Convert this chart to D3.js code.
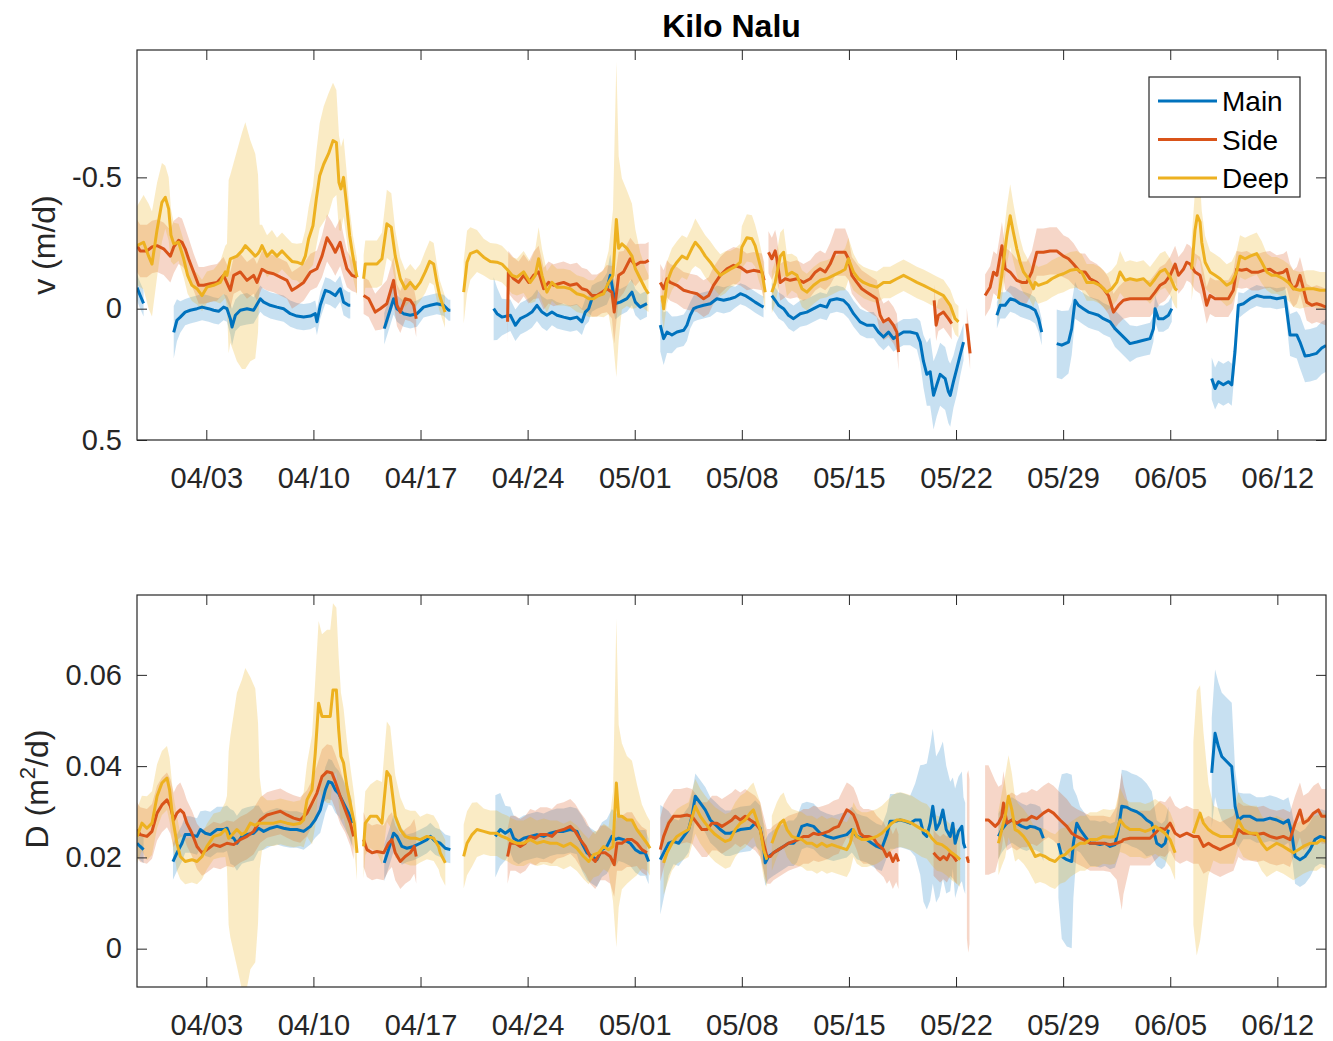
<!DOCTYPE html>
<html>
<head>
<meta charset="utf-8">
<script src="https://cdn.jsdelivr.net/npm/d3@7"></script>
<style>
  body { margin: 0; background: #fff; }
  text { font-family: "Liberation Sans", Arial, Helvetica, sans-serif; }
</style>
</head>
<body>
<svg id="chart" width="1333" height="1041"></svg>
<script>
// Kilo Nalu: along-slope velocity v and diffusivity D at three stations.
// Each record is [t, value, sd], t = days after 31 March 00:00 (UTC);
// the shaded band is value ± sd. null marks a gap in the record.

const seriesNames = ["Main", "Side", "Deep"];
const seriesColors = ["#0072BD", "#D95319", "#EDB120"];
const xTickLabels = ["04/03", "04/10", "04/17", "04/24", "05/01", "05/08", "05/15", "05/22", "05/29", "06/05", "06/12"];
const timeRange = [-1.53, 76.18];
const vTicks = [-0.5, 0, 0.5];
const vRange = [-0.985, 0.5];
const dTicks = [0, 0.02, 0.04, 0.06];
const dRange = [-0.0084, 0.0775];

// ---------- v (m/d) ----------
const vMain = [
  [-1.53,-0.08,0.05],[-1.32,-0.05,0.05],[-1.10,-0.02,0.05],
  null,
  [0.87,0.09,0.10],[1.08,0.044,0.08],[1.30,0.032,0.06],[1.62,0.013,0.05],[1.95,0.006,0.05],[2.39,0,0.05],[2.72,-0.006,0.05],[3.15,0,0.05],[3.48,0.006,0.05],[3.80,0.01,0.05],[4.13,-0.006,0.05],[4.35,0,0.05],[4.57,0.038,0.06],[4.68,0.07,0.07],[4.90,0.025,0.06],[5.22,0.006,0.06],[5.66,0,0.06],[6.09,0.006,0.05],[6.53,-0.038,0.05],[6.75,-0.025,0.05],[7.18,-0.013,0.05],[7.62,-0.006,0.05],[8.05,0,0.05],[8.49,0.019,0.05],[8.92,0.028,0.05],[9.36,0.032,0.05],[9.80,0.028,0.05],[10.12,0.019,0.05],[10.23,0.05,0.05],[10.45,-0.013,0.05],[10.78,-0.07,0.05],[11.10,-0.063,0.05],[11.43,-0.05,0.05],[11.75,-0.076,0.05],[11.97,-0.025,0.05],[12.30,-0.013,0.05],[12.41,-0.013,0.05],
  null,
  [14.63,0.076,0.06],[15.24,-0.038,0.06],[15.46,0,0.05],[15.89,0.019,0.05],[16.33,0.025,0.05],[16.77,0.019,0.05],[17.20,-0.006,0.04],[17.64,-0.013,0.04],[18.07,-0.019,0.04],[18.51,-0.013,0.04],[18.84,0.006,0.04],[18.95,0.006,0.04],
  null,
  [21.78,0,0.12],[22.0,0.019,0.10],[22.32,0.032,0.07],[22.87,0.025,0.06],[23.2,0.063,0.06],[23.52,0.038,0.06],[23.96,0.025,0.06],[24.28,0.013,0.06],[24.61,-0.013,0.06],[24.94,0.013,0.06],[25.26,0.025,0.06],[25.59,0.013,0.05],[25.92,0.025,0.05],[26.35,0.032,0.05],[26.79,0.038,0.05],[27.22,0.032,0.05],[27.55,0.05,0.05],[27.77,0.013,0.05],[27.99,0,0.05],[28.2,-0.038,0.05],[28.53,-0.05,0.05],[28.86,-0.057,0.05],[29.18,-0.076,0.06],[29.40,-0.127,0.08],[29.73,-0.019,0.06],[30.05,-0.025,0.05],[30.49,-0.038,0.05],[30.82,-0.063,0.05],[31.04,-0.025,0.05],[31.36,-0.006,0.05],[31.80,-0.019,0.05],
  null,
  [32.67,0.063,0.10],[32.89,0.114,0.10],[33.11,0.089,0.08],[33.43,0.10,0.07],[33.76,0.089,0.06],[34.20,0.082,0.06],[34.41,0.063,0.06],[34.63,0.025,0.05],[34.85,0,0.05],[35.07,-0.006,0.05],[35.50,-0.013,0.05],[35.94,-0.019,0.05],[36.37,-0.038,0.05],[36.81,-0.032,0.05],[37.24,-0.038,0.05],[37.57,-0.044,0.04],[37.90,-0.057,0.04],[38.22,-0.05,0.04],[38.55,-0.038,0.04],[38.87,-0.025,0.04],[39.2,-0.013,0.04],[39.42,-0.006,0.04],
  null,
  [39.96,-0.05,0.05],[40.18,-0.032,0.05],[40.40,-0.013,0.05],[40.73,0,0.05],[41.05,0.025,0.05],[41.38,0.038,0.05],[41.82,0.019,0.05],[42.25,0.013,0.05],[42.69,0,0.05],[43.12,-0.013,0.05],[43.55,-0.006,0.05],[43.77,-0.032,0.05],[44.21,-0.038,0.05],[44.64,-0.032,0.05],[44.97,-0.013,0.05],[45.3,0.019,0.05],[45.73,0.05,0.05],[46.17,0.063,0.05],[46.61,0.063,0.05],[46.93,0.089,0.05],[47.26,0.108,0.05],[47.59,0.089,0.05],[47.91,0.114,0.05],[48.24,0.10,0.05],[48.57,0.089,0.05],[49.0,0.089,0.05],[49.44,0.095,0.06],[49.66,0.127,0.08],[49.87,0.20,0.10],[50.09,0.25,0.12],[50.31,0.24,0.13],[50.53,0.33,0.13],[50.74,0.29,0.12],[50.96,0.25,0.12],[51.29,0.266,0.12],[51.50,0.316,0.12],[51.62,0.33,0.12],[51.83,0.278,0.10],[52.05,0.228,0.10],[52.27,0.177,0.08],[52.49,0.127,0.07],
  null,
  [54.67,0.025,0.05],[54.89,-0.013,0.05],[55.21,-0.013,0.05],[55.54,-0.038,0.05],[55.86,-0.032,0.05],[56.19,-0.019,0.05],[56.51,-0.013,0.05],[56.84,-0.006,0.05],[57.17,0.006,0.05],[57.39,0.038,0.05],[57.6,0.089,0.05],
  null,
  [58.58,0.133,0.13],[58.91,0.139,0.13],[59.35,0.127,0.12],[59.56,0.076,0.10],[59.78,-0.032,0.07],[60.0,-0.013,0.06],[60.32,0,0.06],[60.65,0.013,0.06],[60.98,0.019,0.06],[61.31,0.025,0.06],[61.63,0.038,0.06],[62.07,0.05,0.06],[62.39,0.076,0.07],[62.72,0.095,0.07],[63.05,0.114,0.07],[63.37,0.133,0.07],[63.81,0.127,0.06],[64.25,0.12,0.06],[64.68,0.114,0.06],[64.9,0.076,0.05],[65.01,0,0.05],[65.23,0.038,0.05],[65.55,0.038,0.05],[65.88,0.025,0.05],[66.1,0,0.05],
  null,
  [68.71,0.266,0.08],[68.93,0.304,0.08],[69.15,0.278,0.08],[69.47,0.29,0.08],[69.80,0.278,0.08],[70.02,0.29,0.08],[70.23,0.165,0.06],[70.45,-0.013,0.05],[70.78,-0.019,0.04],[71.22,-0.038,0.04],[71.65,-0.05,0.04],[72.09,-0.044,0.04],[72.52,-0.044,0.04],[72.96,-0.038,0.04],[73.5,-0.044,0.04],[73.83,0.10,0.08],[74.27,0.10,0.09],[74.48,0.127,0.10],[74.81,0.18,0.10],[75.14,0.177,0.10],[75.57,0.17,0.10],[75.90,0.15,0.10],[76.18,0.14,0.10]
];

const vSide = [
  [-1.53,-0.24,0.10],[-1.32,-0.22,0.10],[-0.88,-0.22,0.10],[-0.55,-0.235,0.10],[-0.22,-0.24,0.10],[0.21,-0.228,0.10],[0.65,-0.2,0.10],[0.87,-0.235,0.10],[1.19,-0.26,0.09],[1.41,-0.253,0.09],[1.62,-0.228,0.08],[1.84,-0.19,0.08],[2.17,-0.14,0.07],[2.5,-0.089,0.07],[2.83,-0.089,0.07],[3.26,-0.095,0.07],[3.70,-0.10,0.07],[4.13,-0.127,0.07],[4.57,-0.07,0.07],[4.79,-0.127,0.07],[5.22,-0.14,0.07],[5.66,-0.108,0.07],[6.09,-0.127,0.07],[6.31,-0.10,0.07],[6.64,-0.15,0.07],[6.97,-0.139,0.07],[7.40,-0.133,0.07],[7.84,-0.12,0.07],[8.27,-0.108,0.07],[8.6,-0.07,0.07],[8.92,-0.082,0.07],[9.36,-0.10,0.07],[9.80,-0.139,0.07],[10.23,-0.152,0.07],[10.56,-0.2,0.08],[10.89,-0.27,0.09],[11.21,-0.24,0.09],[11.43,-0.215,0.09],[11.75,-0.253,0.09],[11.97,-0.2,0.08],[12.19,-0.152,0.07],[12.52,-0.127,0.06],[12.85,-0.12,0.06],
  null,
  [13.28,-0.05,0.07],[13.61,-0.038,0.07],[14.04,0.013,0.07],[14.37,0,0.08],[14.80,-0.019,0.09],[15.24,-0.108,0.09],[15.46,-0.013,0.08],[15.68,0.013,0.08],[16.0,-0.038,0.08],[16.33,-0.032,0.08],[16.55,-0.013,0.07],[16.72,0.038,0.07],
  null,
  [22.69,0.05,0.08],[22.74,-0.14,0.08],[23.09,-0.114,0.08],[23.41,-0.10,0.08],[23.74,-0.127,0.08],[24.07,-0.10,0.08],[24.39,-0.127,0.09],[24.72,-0.14,0.10],[25.05,-0.076,0.08],[25.37,-0.10,0.08],[25.70,-0.089,0.08],[26.03,-0.095,0.08],[26.35,-0.10,0.08],[26.79,-0.089,0.08],[27.22,-0.095,0.08],[27.55,-0.076,0.08],[27.88,-0.07,0.08],[28.2,-0.05,0.08],[28.53,-0.05,0.08],[28.86,-0.063,0.08],[29.18,-0.076,0.09],[29.51,-0.063,0.10],[29.66,0.013,0.12],[29.95,-0.127,0.09],[30.27,-0.14,0.08],[30.71,-0.19,0.08],[31.04,-0.165,0.08],[31.36,-0.177,0.07],[31.69,-0.177,0.07],[31.91,-0.184,0.07],
  null,
  [32.67,-0.10,0.07],[32.89,-0.076,0.07],[33.11,-0.114,0.07],[33.32,-0.10,0.07],[33.76,-0.089,0.07],[34.20,-0.07,0.07],[34.63,-0.063,0.07],[35.07,-0.057,0.07],[35.50,-0.038,0.07],[35.83,-0.05,0.07],[36.15,-0.089,0.07],[36.59,-0.127,0.07],[37.03,-0.152,0.07],[37.46,-0.165,0.07],[37.90,-0.158,0.07],[38.33,-0.14,0.07],[38.76,-0.146,0.07],[39.31,-0.14,0.07],[39.46,-0.108,0.07],
  null,
  [39.74,-0.215,0.08],[39.96,-0.19,0.08],[40.18,-0.22,0.08],[40.29,-0.19,0.08],[40.51,-0.10,0.07],[40.84,-0.114,0.07],[41.16,-0.108,0.07],[41.60,-0.114,0.07],[42.03,-0.10,0.07],[42.47,-0.114,0.07],[42.80,-0.139,0.07],[43.12,-0.152,0.07],[43.45,-0.14,0.07],[43.77,-0.17,0.08],[44.10,-0.215,0.09],[44.42,-0.215,0.09],[44.75,-0.215,0.09],[44.97,-0.19,0.08],[45.19,-0.127,0.07],[45.52,-0.10,0.07],[45.84,-0.076,0.07],[46.17,-0.063,0.07],[46.50,-0.05,0.07],[46.82,-0.038,0.07],[47.04,0.025,0.07],[47.26,0.05,0.07],[47.59,0.038,0.07],[47.91,0.063,0.07],[48.13,0.089,0.07],[48.24,0.165,0.07],
  null,
  [50.57,-0.032,0.06],[50.70,0.063,0.06],[50.85,0.025,0.06],[51.18,0.013,0.06],[51.50,0.038,0.06],[51.72,0.057,0.06],
  null,
  [52.70,0.057,0.06],[52.92,0.17,0.06],
  null,
  [53.90,-0.05,0.08],[54.23,-0.082,0.08],[54.45,-0.139,0.08],[54.67,-0.127,0.08],[55.0,-0.24,0.09],[55.21,-0.152,0.08],[55.54,-0.139,0.08],[55.97,-0.108,0.08],[56.30,-0.10,0.08],[56.62,-0.10,0.08],[56.95,-0.139,0.08],[57.28,-0.215,0.09],[57.71,-0.215,0.09],[58.15,-0.22,0.09],[58.58,-0.22,0.09],[59.02,-0.20,0.08],[59.35,-0.19,0.08],[59.67,-0.17,0.08],[60.11,-0.14,0.07],[60.43,-0.14,0.07],[60.76,-0.114,0.07],[61.20,-0.10,0.07],[61.63,-0.076,0.07],[61.96,-0.05,0.07],[62.29,0.013,0.07],[62.61,-0.013,0.07],[62.94,-0.032,0.07],[63.37,-0.038,0.07],[63.81,-0.038,0.07],[64.25,-0.038,0.07],[64.68,-0.038,0.07],[65.01,-0.063,0.07],[65.33,-0.089,0.07],[65.66,-0.10,0.07],[65.99,-0.127,0.07],[66.32,-0.17,0.07],[66.54,-0.127,0.07],[66.86,-0.15,0.07],[67.08,-0.177,0.07],[67.30,-0.17,0.07],[67.62,-0.14,0.07],[67.95,-0.127,0.07],[68.17,-0.076,0.07],[68.38,-0.013,0.07],[68.60,-0.05,0.07],[68.93,-0.038,0.07],[69.37,-0.038,0.07],[69.80,-0.038,0.07],[70.12,-0.07,0.07],[70.34,-0.15,0.07],[70.67,-0.146,0.07],[71.0,-0.15,0.07],[71.32,-0.139,0.07],[71.76,-0.139,0.07],[72.09,-0.146,0.07],[72.52,-0.15,0.07],[72.96,-0.133,0.07],[73.39,-0.139,0.07],[73.61,-0.15,0.07],[73.83,-0.10,0.07],[74.05,-0.076,0.07],[74.27,-0.089,0.07],[74.48,-0.127,0.07],[74.70,-0.076,0.07],[74.92,-0.025,0.07],[75.25,-0.013,0.07],[75.57,-0.019,0.07],[75.90,-0.013,0.07],[76.18,-0.006,0.07]
];

const vDeep = [
  [-1.53,-0.24,0.15],[-1.10,-0.253,0.18],[-0.77,-0.2,0.2],[-0.55,-0.17,0.2],[-0.22,-0.30,0.18],[0.10,-0.405,0.15],[0.32,-0.424,0.12],[0.54,-0.38,0.12],[0.69,-0.28,0.1],[0.87,-0.247,0.08],[1.19,-0.253,0.07],[1.52,-0.19,0.07],[1.78,-0.127,0.07],[2.06,-0.089,0.06],[2.39,-0.076,0.06],[2.72,-0.05,0.06],[3.04,-0.082,0.06],[3.48,-0.089,0.06],[3.91,-0.10,0.08],[4.24,-0.14,0.1],[4.35,-0.127,0.12],[4.46,-0.16,0.33],[4.57,-0.19,0.32],[5.0,-0.2,0.4],[5.33,-0.22,0.45],[5.55,-0.24,0.47],[5.88,-0.22,0.42],[6.2,-0.2,0.39],[6.38,-0.21,0.3],[6.49,-0.22,0.1],[6.64,-0.24,0.08],[6.97,-0.2,0.08],[7.29,-0.22,0.08],[7.62,-0.2,0.07],[7.95,-0.22,0.07],[8.27,-0.2,0.07],[8.60,-0.18,0.07],[8.92,-0.177,0.07],[9.25,-0.17,0.08],[9.47,-0.2,0.1],[9.69,-0.266,0.12],[9.97,-0.316,0.15],[10.19,-0.418,0.18],[10.41,-0.506,0.2],[10.67,-0.55,0.22],[10.99,-0.59,0.23],[11.28,-0.64,0.22],[11.50,-0.633,0.2],[11.67,-0.48,0.18],[11.80,-0.456,0.16],[11.97,-0.5,0.15],[12.15,-0.405,0.13],[12.37,-0.278,0.1],[12.58,-0.2,0.08],[12.85,-0.12,0.07],
  null,
  [13.28,-0.114,0.09],[13.39,-0.17,0.09],[13.72,-0.17,0.09],[14.15,-0.17,0.09],[14.48,-0.19,0.1],[14.80,-0.323,0.13],[15.09,-0.31,0.13],[15.35,-0.2,0.1],[15.68,-0.114,0.08],[16.0,-0.076,0.07],[16.33,-0.10,0.07],[16.66,-0.076,0.07],[16.98,-0.10,0.07],[17.31,-0.14,0.08],[17.60,-0.18,0.08],[17.86,-0.17,0.08],[18.07,-0.10,0.07],[18.25,-0.05,0.06],[18.6,0.013,0.06],
  null,
  [19.82,-0.063,0.12],[20.04,-0.177,0.12],[20.26,-0.21,0.1],[20.69,-0.22,0.08],[21.13,-0.196,0.07],[21.56,-0.18,0.07],[21.99,-0.177,0.07],[22.32,-0.17,0.07],[22.65,-0.15,0.07],[22.98,-0.127,0.07],[23.30,-0.12,0.07],[23.74,-0.14,0.08],[24.17,-0.10,0.08],[24.50,-0.127,0.1],[24.72,-0.19,0.12],[24.94,-0.127,0.1],[25.26,-0.063,0.08],[25.59,-0.10,0.07],[25.92,-0.082,0.07],[26.35,-0.082,0.07],[26.79,-0.076,0.07],[27.22,-0.057,0.07],[27.66,-0.05,0.07],[27.99,-0.038,0.07],[28.31,-0.038,0.07],[28.64,-0.05,0.08],[28.97,-0.057,0.09],[29.29,-0.10,0.12],[29.58,-0.127,0.25],[29.80,-0.34,0.6],[29.95,-0.23,0.35],[30.16,-0.247,0.25],[30.49,-0.23,0.22],[30.82,-0.2,0.2],[31.04,-0.152,0.15],[31.36,-0.114,0.1],[31.69,-0.076,0.08],[31.90,-0.057,0.07],
  null,
  [32.78,-0.05,0.08],[32.89,0,0.08],[33.11,-0.10,0.08],[33.43,-0.15,0.08],[33.76,-0.177,0.08],[34.09,-0.2,0.08],[34.41,-0.19,0.08],[34.74,-0.23,0.08],[34.96,-0.253,0.09],[35.29,-0.23,0.08],[35.61,-0.2,0.08],[35.94,-0.177,0.08],[36.26,-0.15,0.08],[36.59,-0.127,0.08],[36.92,-0.139,0.08],[37.24,-0.15,0.07],[37.57,-0.16,0.07],[37.90,-0.177,0.07],[38.0,-0.234,0.08],[38.33,-0.27,0.09],[38.66,-0.266,0.09],[38.87,-0.24,0.08],[39.09,-0.19,0.08],[39.31,-0.14,0.07],[39.53,-0.063,0.07],
  null,
  [39.96,-0.063,0.08],[40.18,-0.10,0.08],[40.51,-0.2,0.09],[40.73,-0.215,0.09],[40.95,-0.127,0.08],[41.27,-0.139,0.07],[41.60,-0.127,0.07],[41.93,-0.076,0.07],[42.25,-0.063,0.07],[42.69,-0.089,0.07],[43.12,-0.108,0.07],[43.55,-0.114,0.07],[43.99,-0.127,0.07],[44.42,-0.139,0.07],[44.75,-0.15,0.08],[44.97,-0.19,0.08],[45.30,-0.139,0.07],[45.62,-0.114,0.06],[45.95,-0.10,0.06],[46.39,-0.089,0.06],[46.82,-0.082,0.06],[47.26,-0.10,0.06],[47.69,-0.10,0.06],[48.13,-0.114,0.06],[48.57,-0.127,0.06],[49.0,-0.114,0.06],[49.44,-0.10,0.06],[49.87,-0.089,0.06],[50.31,-0.076,0.06],[50.74,-0.063,0.06],[51.18,-0.05,0.06],[51.62,-0.013,0.06],[51.94,0.038,0.06],[52.16,0.05,0.06],
  null,
  [54.77,-0.038,0.08],[54.99,-0.127,0.09],[55.32,-0.278,0.11],[55.54,-0.354,0.12],[55.75,-0.29,0.11],[55.97,-0.228,0.1],[56.19,-0.177,0.09],[56.41,-0.14,0.08],[56.73,-0.114,0.07],[57.06,-0.076,0.07],[57.17,-0.10,0.07],[57.38,-0.089,0.07],[57.93,-0.10,0.07],[58.26,-0.114,0.07],[58.69,-0.127,0.07],[59.02,-0.133,0.07],[59.46,-0.146,0.07],[59.89,-0.15,0.07],[60.21,-0.139,0.07],[60.54,-0.10,0.07],[60.98,-0.10,0.07],[61.41,-0.089,0.07],[61.85,-0.063,0.07],[62.18,-0.076,0.07],[62.50,-0.10,0.07],[62.72,-0.14,0.08],[63.05,-0.108,0.07],[63.37,-0.114,0.07],[63.81,-0.108,0.07],[64.25,-0.114,0.07],[64.68,-0.089,0.07],[65.01,-0.114,0.07],[65.33,-0.14,0.07],[65.66,-0.15,0.07],[65.99,-0.12,0.07],[66.32,-0.076,0.07],[66.45,-0.07,0.07],
  null,
  [67.40,-0.15,0.12],[67.62,-0.30,0.15],[67.77,-0.354,0.16],[67.95,-0.33,0.15],[68.06,-0.253,0.12],[68.28,-0.177,0.1],[68.60,-0.14,0.08],[68.93,-0.127,0.08],[69.26,-0.114,0.08],[69.69,-0.089,0.08],[70.02,-0.10,0.08],[70.34,-0.14,0.08],[70.56,-0.2,0.08],[70.89,-0.19,0.08],[71.22,-0.2,0.08],[71.65,-0.21,0.08],[71.98,-0.177,0.08],[72.31,-0.14,0.07],[72.63,-0.127,0.07],[72.96,-0.127,0.07],[73.39,-0.114,0.07],[73.72,-0.10,0.07],[74.05,-0.076,0.07],[74.48,-0.07,0.07],[74.92,-0.076,0.07],[75.36,-0.076,0.07],[75.79,-0.07,0.07],[76.18,-0.07,0.07]
];

// ---------- D (m^2/d) ----------
const dMain = [
  [-1.53,0.0231,0.003],[-1.32,0.0224,0.003],[-1.10,0.0217,0.003],
  null,
  [0.82,0.0191,0.004],[1.08,0.021,0.004],[1.41,0.0231,0.004],[1.62,0.025,0.004],[1.95,0.025,0.004],[2.39,0.0246,0.004],[2.61,0.0261,0.004],[2.94,0.0253,0.005],[3.26,0.025,0.005],[3.70,0.0261,0.005],[4.13,0.0261,0.005],[4.35,0.0264,0.005],[4.57,0.0246,0.006],[4.79,0.0242,0.006],[5.0,0.0231,0.006],[5.33,0.0246,0.006],[5.66,0.025,0.006],[6.09,0.0253,0.006],[6.42,0.0264,0.005],[6.75,0.0257,0.004],[7.18,0.0264,0.004],[7.62,0.0268,0.004],[8.05,0.0264,0.004],[8.49,0.0261,0.004],[8.92,0.0261,0.004],[9.36,0.0257,0.004],[9.80,0.0268,0.004],[10.12,0.0283,0.004],[10.45,0.0304,0.005],[10.78,0.0348,0.005],[10.99,0.0366,0.005],[11.21,0.0363,0.005],[11.43,0.0348,0.005],[11.65,0.034,0.005],[11.97,0.0319,0.005],[12.30,0.0297,0.005],[12.52,0.0275,0.005],
  null,
  [14.63,0.0188,0.004],[14.91,0.0217,0.004],[15.24,0.0253,0.004],[15.46,0.0246,0.004],[15.78,0.0224,0.004],[16.11,0.022,0.003],[16.55,0.0224,0.003],[16.98,0.0231,0.003],[17.42,0.0239,0.003],[17.64,0.0246,0.003],[17.97,0.0235,0.003],[18.29,0.0231,0.003],[18.62,0.022,0.003],[18.95,0.0217,0.003],
  null,
  [21.89,0.0246,0.009],[22.21,0.0261,0.008],[22.54,0.0253,0.006],[22.87,0.0261,0.005],[23.09,0.0242,0.005],[23.41,0.0235,0.005],[23.74,0.0242,0.005],[24.17,0.0246,0.005],[24.61,0.025,0.005],[25.05,0.0246,0.005],[25.48,0.0253,0.005],[25.92,0.0257,0.005],[26.35,0.0257,0.005],[26.79,0.0261,0.005],[27.22,0.0257,0.005],[27.55,0.0231,0.006],[27.88,0.021,0.006],[28.2,0.0202,0.006],[28.53,0.0195,0.006],[28.86,0.0217,0.006],[29.18,0.0224,0.006],[29.51,0.0246,0.006],[29.73,0.0239,0.006],[29.95,0.0242,0.005],[30.27,0.0239,0.005],[30.71,0.0231,0.005],[31.04,0.0217,0.005],[31.36,0.021,0.005],[31.69,0.021,0.005],[31.91,0.0191,0.005],
  null,
  [32.67,0.0195,0.012],[32.89,0.021,0.01],[33.22,0.0231,0.007],[33.54,0.0235,0.005],[33.87,0.0231,0.005],[34.20,0.0246,0.005],[34.52,0.0261,0.005],[34.74,0.029,0.005],[34.96,0.0334,0.005],[35.29,0.0319,0.005],[35.61,0.0304,0.005],[35.94,0.0282,0.005],[36.26,0.0272,0.005],[36.59,0.0261,0.005],[36.92,0.0253,0.005],[37.24,0.0253,0.005],[37.57,0.0257,0.005],[37.90,0.0261,0.005],[38.55,0.0264,0.005],[38.87,0.0275,0.005],[39.2,0.0264,0.005],[39.42,0.0224,0.005],[39.53,0.0188,0.005],[39.75,0.0202,0.005],[40.07,0.021,0.005],[40.40,0.0217,0.005],[40.73,0.0224,0.005],[41.05,0.0231,0.005],[41.38,0.0231,0.005],[41.60,0.0239,0.005],[41.92,0.0268,0.005],[42.25,0.0272,0.005],[42.69,0.0268,0.005],[43.12,0.0253,0.005],[43.56,0.0246,0.005],[43.99,0.0242,0.005],[44.43,0.0246,0.005],[44.86,0.025,0.005],[45.19,0.0261,0.005],[45.52,0.0246,0.005],[45.84,0.0242,0.005],[46.17,0.0239,0.005],[46.50,0.0231,0.005],[46.82,0.0224,0.005],[47.15,0.022,0.005],[47.48,0.025,0.005],[47.69,0.0279,0.006],[48.02,0.0279,0.006],[48.35,0.0282,0.006],[48.68,0.0279,0.006],[49.0,0.0275,0.006],[49.33,0.0282,0.008],[49.66,0.0282,0.012],[49.87,0.0253,0.015],[50.09,0.0246,0.016],[50.31,0.0275,0.017],[50.48,0.0312,0.017],[50.70,0.0261,0.016],[50.92,0.0275,0.016],[51.14,0.0304,0.015],[51.36,0.0261,0.014],[51.62,0.0246,0.012],[51.79,0.0275,0.01],[51.94,0.0231,0.012],[52.16,0.0257,0.012],[52.38,0.0268,0.012],[52.49,0.0231,0.01],[52.60,0.022,0.01],
  null,
  [54.77,0.0246,0.005],[54.99,0.0261,0.005],[55.32,0.0275,0.005],[55.65,0.0282,0.005],[55.97,0.0275,0.005],[56.30,0.0268,0.005],[56.62,0.0264,0.005],[56.84,0.0268,0.005],[57.17,0.0266,0.005],[57.49,0.0261,0.005],[57.71,0.0242,0.005],
  null,
  [58.69,0.0231,0.012],[58.91,0.0202,0.018],[59.24,0.0195,0.019],[59.56,0.0191,0.019],[59.67,0.0231,0.012],[59.89,0.0275,0.006],[60.11,0.0261,0.005],[60.43,0.0246,0.005],[60.76,0.0231,0.005],[61.09,0.0231,0.005],[61.41,0.0228,0.005],[61.74,0.0231,0.005],[62.07,0.0224,0.005],[62.39,0.0228,0.005],[62.61,0.0261,0.006],[62.83,0.0312,0.008],[63.16,0.031,0.008],[63.48,0.0304,0.008],[63.81,0.03,0.008],[64.14,0.0293,0.008],[64.46,0.0282,0.008],[64.79,0.0275,0.007],[65.12,0.0231,0.005],[65.44,0.0224,0.005],[65.66,0.0231,0.005],[65.88,0.0261,0.005],
  null,
  [68.71,0.0385,0.012],[68.93,0.0472,0.014],[69.15,0.0443,0.014],[69.37,0.0421,0.014],[69.69,0.041,0.014],[70.02,0.0399,0.014],[70.24,0.0312,0.008],[70.45,0.0282,0.006],[70.78,0.029,0.005],[71.22,0.029,0.005],[71.65,0.0282,0.005],[72.09,0.0282,0.005],[72.52,0.0286,0.005],[72.96,0.0282,0.005],[73.39,0.0275,0.005],[73.72,0.0282,0.005],[73.94,0.0253,0.005],[74.16,0.0202,0.006],[74.48,0.0195,0.006],[74.81,0.0202,0.006],[75.14,0.0217,0.006],[75.46,0.0239,0.006],[75.79,0.0246,0.006],[76.18,0.0242,0.006]
];

const dSide = [
  [-1.53,0.0261,0.006],[-1.32,0.025,0.006],[-0.88,0.0246,0.006],[-0.55,0.0257,0.006],[-0.22,0.0297,0.006],[0.10,0.0315,0.006],[0.43,0.0326,0.006],[0.65,0.0312,0.006],[0.87,0.0282,0.006],[1.08,0.0297,0.006],[1.30,0.0304,0.006],[1.52,0.0297,0.005],[1.73,0.0275,0.005],[2.06,0.0253,0.005],[2.39,0.0224,0.005],[2.72,0.021,0.005],[3.04,0.0217,0.005],[3.48,0.0228,0.005],[3.91,0.0224,0.005],[4.35,0.0231,0.005],[4.79,0.0228,0.005],[5.22,0.0239,0.005],[5.66,0.0246,0.005],[6.09,0.0257,0.005],[6.53,0.0282,0.005],[6.97,0.0293,0.005],[7.40,0.0297,0.005],[7.84,0.0301,0.005],[8.27,0.0293,0.005],[8.71,0.0286,0.005],[9.14,0.0282,0.005],[9.58,0.0297,0.005],[9.91,0.0319,0.005],[10.23,0.0341,0.006],[10.56,0.0377,0.006],[10.89,0.0388,0.006],[11.21,0.0385,0.006],[11.43,0.0366,0.006],[11.75,0.0334,0.006],[12.08,0.0304,0.005],[12.41,0.0275,0.005],[12.63,0.0246,0.005],
  null,
  [13.28,0.0239,0.006],[13.50,0.0217,0.006],[13.83,0.021,0.006],[14.15,0.0213,0.006],[14.59,0.021,0.006],[14.91,0.0231,0.006],[15.13,0.0239,0.006],[15.35,0.021,0.006],[15.68,0.0191,0.006],[16.0,0.0202,0.006],[16.33,0.021,0.006],[16.59,0.0224,0.006],[16.72,0.0202,0.006],
  null,
  [22.69,0.0202,0.006],[22.87,0.0231,0.006],[23.2,0.0231,0.006],[23.52,0.0224,0.006],[23.85,0.0231,0.006],[24.17,0.0246,0.006],[24.5,0.0242,0.006],[24.83,0.025,0.006],[25.26,0.025,0.006],[25.59,0.0246,0.006],[25.92,0.0257,0.006],[26.35,0.0261,0.006],[26.79,0.0268,0.006],[27.11,0.0257,0.006],[27.44,0.0239,0.006],[27.77,0.0224,0.006],[28.09,0.0202,0.006],[28.42,0.0191,0.006],[28.75,0.021,0.006],[29.07,0.021,0.006],[29.40,0.0202,0.006],[29.66,0.0184,0.007],[29.84,0.0231,0.006],[30.16,0.0231,0.006],[30.49,0.0239,0.006],[30.82,0.0239,0.006],[31.14,0.0231,0.005],[31.47,0.0217,0.005],[31.80,0.021,0.005],
  null,
  [32.67,0.0217,0.007],[32.89,0.0246,0.007],[33.22,0.0275,0.006],[33.54,0.029,0.006],[33.98,0.029,0.006],[34.41,0.0293,0.006],[34.74,0.029,0.006],[35.07,0.0275,0.006],[35.39,0.0261,0.006],[35.72,0.0261,0.006],[36.05,0.0275,0.006],[36.37,0.0275,0.006],[36.70,0.0268,0.006],[37.03,0.0275,0.006],[37.35,0.0282,0.006],[37.57,0.029,0.006],[37.90,0.0282,0.006],[38.22,0.029,0.006],[38.55,0.0282,0.006],[38.87,0.0275,0.006],[39.2,0.0261,0.006],[39.42,0.0231,0.006],[39.64,0.0202,0.006],[39.86,0.0202,0.006],[40.07,0.021,0.006],[40.40,0.0217,0.006],[40.73,0.0224,0.006],[41.05,0.0231,0.006],[41.38,0.0235,0.006],[41.71,0.0239,0.006],[42.03,0.0246,0.006],[42.36,0.0246,0.006],[42.69,0.0253,0.006],[43.01,0.025,0.006],[43.34,0.0253,0.006],[43.67,0.0257,0.006],[43.99,0.0264,0.006],[44.32,0.0268,0.006],[44.64,0.029,0.006],[44.86,0.0304,0.006],[45.08,0.03,0.006],[45.30,0.0293,0.006],[45.52,0.0275,0.006],[45.73,0.0253,0.006],[45.95,0.0246,0.006],[46.28,0.0246,0.006],[46.61,0.0242,0.006],[46.82,0.0231,0.006],[47.04,0.0224,0.006],[47.26,0.0217,0.006],[47.48,0.0202,0.006],[47.65,0.021,0.006],[47.87,0.0191,0.006],[48.09,0.0206,0.006],[48.24,0.0191,0.006],
  null,
  [50.53,0.021,0.005],[50.74,0.0202,0.005],[50.96,0.0195,0.005],[51.18,0.0202,0.005],[51.40,0.0195,0.005],[51.62,0.021,0.005],[51.83,0.0202,0.005],[52.05,0.0191,0.005],
  null,
  [52.71,0.0202,0.018],[52.80,0.0191,0.02],[52.88,0.0191,0.018],
  null,
  [53.9,0.0282,0.012],[54.12,0.0282,0.012],[54.34,0.0275,0.011],[54.56,0.0268,0.01],[54.77,0.0275,0.008],[54.99,0.029,0.007],[55.1,0.0319,0.007],[55.32,0.0275,0.006],[55.65,0.0282,0.006],[55.97,0.0275,0.006],[56.30,0.0282,0.006],[56.62,0.0282,0.006],[56.95,0.029,0.006],[57.28,0.0285,0.006],[57.71,0.0297,0.006],[58.04,0.0304,0.006],[58.37,0.0297,0.006],[58.80,0.0282,0.006],[59.24,0.0268,0.006],[59.56,0.0253,0.006],[59.89,0.0246,0.006],[60.33,0.0239,0.006],[60.76,0.0231,0.006],[61.20,0.0231,0.006],[61.63,0.0231,0.006],[62.07,0.0228,0.006],[62.5,0.0231,0.008],[62.83,0.0235,0.015],[62.94,0.0239,0.012],[63.37,0.0242,0.006],[63.81,0.0242,0.006],[64.25,0.0242,0.006],[64.68,0.0242,0.006],[65.01,0.0253,0.006],[65.33,0.0264,0.006],[65.66,0.0261,0.006],[65.99,0.0275,0.006],[66.32,0.0253,0.006],[66.64,0.0246,0.006],[67.08,0.0253,0.006],[67.51,0.0246,0.006],[67.84,0.0246,0.006],[68.17,0.0224,0.006],[68.5,0.0231,0.006],[68.82,0.0224,0.006],[69.26,0.0217,0.006],[69.69,0.0224,0.006],[70.13,0.0231,0.006],[70.45,0.0261,0.006],[70.78,0.0253,0.006],[71.22,0.0253,0.006],[71.65,0.025,0.006],[72.09,0.0253,0.006],[72.52,0.0246,0.006],[72.96,0.0242,0.006],[73.39,0.0246,0.006],[73.83,0.0239,0.006],[74.16,0.0275,0.006],[74.48,0.0304,0.006],[74.7,0.0275,0.006],[75.03,0.0282,0.006],[75.36,0.0297,0.006],[75.68,0.0304,0.006],[75.9,0.029,0.006],[76.18,0.029,0.006]
];

const dDeep = [
  [-1.53,0.0246,0.006],[-1.21,0.0275,0.006],[-0.88,0.0264,0.007],[-0.55,0.0275,0.007],[-0.22,0.0334,0.007],[0.10,0.0363,0.007],[0.43,0.0374,0.007],[0.60,0.0348,0.007],[0.82,0.0282,0.006],[1.08,0.0231,0.006],[1.30,0.0202,0.005],[1.62,0.0191,0.005],[2.06,0.0195,0.005],[2.39,0.0191,0.005],[2.72,0.0202,0.005],[3.04,0.0224,0.005],[3.48,0.0246,0.005],[3.91,0.025,0.005],[4.24,0.0261,0.006],[4.35,0.0255,0.008],[4.46,0.0242,0.019],[4.57,0.0245,0.022],[5.0,0.0261,0.03],[5.33,0.025,0.034],[5.55,0.0255,0.036],[5.88,0.0275,0.032],[6.2,0.027,0.03],[6.38,0.0275,0.022],[6.49,0.0275,0.01],[6.64,0.0275,0.006],[6.97,0.0275,0.005],[7.40,0.0275,0.005],[7.84,0.0279,0.005],[8.27,0.0275,0.005],[8.71,0.0272,0.005],[9.14,0.0275,0.005],[9.36,0.0282,0.006],[9.58,0.0326,0.008],[9.91,0.0348,0.012],[10.12,0.0428,0.016],[10.34,0.0538,0.018],[10.56,0.0509,0.018],[10.89,0.0509,0.019],[11.10,0.0509,0.019],[11.28,0.0567,0.019],[11.50,0.0567,0.018],[11.65,0.048,0.016],[11.80,0.0421,0.014],[11.97,0.0407,0.012],[12.19,0.0355,0.01],[12.41,0.0319,0.008],[12.67,0.0275,0.006],[12.85,0.021,0.006],
  null,
  [13.28,0.0224,0.007],[13.39,0.0275,0.007],[13.72,0.029,0.007],[14.15,0.029,0.008],[14.48,0.0275,0.009],[14.80,0.0388,0.011],[15.02,0.0377,0.011],[15.35,0.029,0.009],[15.68,0.0261,0.007],[16.0,0.0246,0.006],[16.33,0.0242,0.006],[16.66,0.0242,0.006],[16.98,0.0239,0.005],[17.42,0.0246,0.005],[17.86,0.0242,0.005],[18.18,0.0224,0.005],[18.29,0.021,0.005],[18.62,0.0188,0.005],
  null,
  [19.82,0.0202,0.007],[20.04,0.0231,0.007],[20.37,0.025,0.007],[20.69,0.0261,0.006],[21.13,0.0257,0.005],[21.56,0.0253,0.005],[21.99,0.0253,0.005],[22.32,0.0246,0.005],[22.65,0.0242,0.005],[22.98,0.0235,0.005],[23.30,0.0231,0.005],[23.74,0.0231,0.005],[24.17,0.0239,0.005],[24.61,0.0231,0.005],[25.05,0.0235,0.005],[25.48,0.0231,0.005],[25.92,0.0231,0.005],[26.35,0.0224,0.005],[26.79,0.0231,0.005],[27.22,0.022,0.005],[27.66,0.0202,0.005],[27.99,0.0191,0.005],[28.31,0.0206,0.005],[28.64,0.021,0.005],[28.97,0.0224,0.005],[29.29,0.0217,0.005],[29.58,0.0224,0.012],[29.80,0.0363,0.036],[29.95,0.029,0.02],[30.16,0.029,0.016],[30.49,0.0282,0.014],[30.82,0.0282,0.013],[31.14,0.0261,0.01],[31.47,0.0246,0.007],[31.80,0.0231,0.006],[32.0,0.022,0.006],
  null,
  [32.89,0.0188,0.007],[33.11,0.021,0.007],[33.43,0.0231,0.006],[33.76,0.0246,0.006],[34.09,0.0253,0.006],[34.52,0.0261,0.006],[34.96,0.0312,0.006],[35.29,0.029,0.006],[35.61,0.0275,0.006],[35.94,0.0261,0.006],[36.26,0.025,0.006],[36.59,0.0242,0.006],[36.92,0.0235,0.006],[37.24,0.0239,0.006],[37.57,0.0261,0.006],[37.90,0.0275,0.006],[38.22,0.0282,0.006],[38.55,0.0297,0.006],[38.76,0.0304,0.006],[38.98,0.0282,0.006],[39.2,0.0261,0.006],[39.42,0.0217,0.006],[39.64,0.0195,0.006],
  null,
  [39.96,0.0231,0.006],[40.29,0.0261,0.006],[40.51,0.0275,0.006],[40.73,0.0282,0.006],[40.95,0.0261,0.006],[41.27,0.0246,0.006],[41.60,0.0242,0.006],[41.93,0.0239,0.006],[42.25,0.0231,0.006],[42.58,0.0231,0.006],[42.91,0.0224,0.006],[43.23,0.0231,0.006],[43.56,0.0224,0.006],[43.88,0.0228,0.006],[44.21,0.0224,0.006],[44.86,0.0217,0.006],[45.08,0.0231,0.006],[45.30,0.0261,0.006],[45.52,0.0246,0.006],[45.84,0.0239,0.006],[46.17,0.0239,0.006],[46.50,0.0242,0.006],[46.82,0.0246,0.006],[47.15,0.0253,0.006],[47.48,0.0264,0.006],[47.80,0.0275,0.006],[48.13,0.0282,0.006],[48.46,0.0282,0.006],[48.79,0.0279,0.006],[49.11,0.0275,0.006],[49.44,0.0268,0.006],[49.77,0.0261,0.006],[50.09,0.0257,0.006],[50.42,0.0242,0.006],[50.74,0.0231,0.006],[51.07,0.0228,0.006],[51.40,0.022,0.006],[51.72,0.021,0.006],[52.05,0.0202,0.006],[52.27,0.0195,0.006],
  null,
  [54.77,0.0231,0.007],[54.99,0.0261,0.008],[55.21,0.029,0.009],[55.43,0.0334,0.009],[55.65,0.0304,0.008],[55.86,0.0261,0.007],[56.08,0.0257,0.006],[56.41,0.0246,0.006],[56.73,0.0231,0.006],[57.06,0.021,0.006],[57.17,0.0202,0.006],[57.49,0.0206,0.006],[57.82,0.0202,0.006],[58.15,0.0195,0.006],[58.47,0.0191,0.006],[58.80,0.0202,0.006],[59.13,0.0206,0.006],[59.46,0.0217,0.006],[59.78,0.0224,0.006],[60.11,0.0231,0.006],[60.43,0.0231,0.006],[60.76,0.0239,0.006],[61.20,0.0239,0.006],[61.63,0.0246,0.006],[62.07,0.0244,0.006],[62.39,0.0246,0.006],[62.72,0.0282,0.007],[63.05,0.0268,0.006],[63.37,0.0261,0.006],[63.70,0.0261,0.006],[64.03,0.0261,0.006],[64.36,0.0257,0.006],[64.68,0.0261,0.006],[65.01,0.0268,0.006],[65.33,0.0261,0.006],[65.66,0.0253,0.006],[65.99,0.0239,0.006],[66.32,0.021,0.006],
  null,
  [67.51,0.0253,0.02],[67.73,0.0275,0.029],[67.95,0.0297,0.028],[68.17,0.0275,0.02],[68.50,0.0261,0.01],[68.82,0.0253,0.006],[69.26,0.0246,0.006],[69.69,0.0246,0.006],[70.13,0.0246,0.006],[70.45,0.0282,0.006],[70.78,0.0261,0.006],[71.22,0.0253,0.006],[71.65,0.0253,0.006],[71.98,0.0231,0.006],[72.31,0.0217,0.006],[72.63,0.0224,0.006],[72.96,0.0231,0.006],[73.39,0.0224,0.006],[73.72,0.0217,0.006],[74.05,0.021,0.006],[74.37,0.0217,0.006],[74.70,0.0224,0.006],[75.14,0.0231,0.006],[75.57,0.0231,0.006],[75.90,0.0239,0.006],[76.18,0.0235,0.006]
];

// ---------- drawing ----------
const W = 1333, H = 1041;
const AX = "#262626";
const svg = d3.select("#chart");
svg.append("rect").attr("width", W).attr("height", H).attr("fill", "#fff");

const base = Date.UTC(2021, 2, 31);
const toDate = t => new Date(base + t * 864e5);
const parseTick = d3.utcParse("%Y/%m/%d");
const tickDates = xTickLabels.map(s => parseTick("2021/" + s));

const left = 137, right = 1326;
const x = d3.scaleUtc().domain(timeRange.map(toDate)).range([left, right]);

const fmtV = d => d === 0 ? "0" : (d < 0 ? "-" : "") + d3.format(".1f")(Math.abs(d));
const fmtD = d => d === 0 ? "0" : d3.format(".2f")(d);

const panels = [
  { id: "v", top: 50, bottom: 440,
    y: d3.scaleLinear().domain(vRange).range([50, 440]),
    ticks: vTicks, fmt: fmtV, series: [vMain, vSide, vDeep], bandOpacity: [0.22, 0.24, 0.26] },
  { id: "d", top: 595, bottom: 987,
    y: d3.scaleLinear().domain(dRange).range([987, 595]),
    ticks: dTicks, fmt: fmtD, series: [dMain, dSide, dDeep], bandOpacity: [0.22, 0.24, 0.26] }
];

const defs = svg.append("defs");

panels.forEach(p => {
  const g = svg.append("g");
  defs.append("clipPath").attr("id", "clip-" + p.id)
    .append("rect").attr("x", left).attr("y", p.top)
    .attr("width", right - left).attr("height", p.bottom - p.top);

  const plot = g.append("g").attr("clip-path", `url(#clip-${p.id})`);
  const y = p.y;
  const px = d => x(toDate(d[0]));

  const area = d3.area().defined(d => d !== null)
    .x(px).y0(d => y(d[1] - d[2])).y1(d => y(d[1] + d[2]));
  const line = d3.line().defined(d => d !== null)
    .x(px).y(d => y(d[1]));

  // shaded ± sd bands first, then the three lines on top
  p.series.forEach((s, i) => {
    plot.append("path").datum(s).attr("d", area)
      .attr("fill", seriesColors[i]).attr("fill-opacity", p.bandOpacity[i]).attr("stroke", "none");
  });
  p.series.forEach((s, i) => {
    plot.append("path").datum(s).attr("d", line)
      .attr("fill", "none").attr("stroke", seriesColors[i])
      .attr("stroke-width", 3).attr("stroke-linejoin", "round").attr("stroke-linecap", "butt");
  });

  // axes: ticks pointing inward on all four sides
  const axB = g.append("g").attr("transform", `translate(0,${p.bottom})`)
    .call(d3.axisBottom(x).tickValues(tickDates).tickFormat((d, i) => xTickLabels[i])
      .tickSizeInner(-10).tickSizeOuter(0).tickPadding(27));
  const axT = g.append("g").attr("transform", `translate(0,${p.top})`)
    .call(d3.axisTop(x).tickValues(tickDates).tickFormat("").tickSizeInner(-10).tickSizeOuter(0));
  const axL = g.append("g").attr("transform", `translate(${left},0)`)
    .call(d3.axisLeft(y).tickValues(p.ticks).tickFormat(p.fmt).tickSizeInner(-10).tickSizeOuter(0).tickPadding(15));
  const axR = g.append("g").attr("transform", `translate(${right},0)`)
    .call(d3.axisRight(y).tickValues(p.ticks).tickFormat("").tickSizeInner(-10).tickSizeOuter(0));

  [axB, axT, axL, axR].forEach(a => {
    a.select(".domain").remove();
    a.selectAll(".tick line").attr("stroke", AX).attr("stroke-width", 1);
    a.selectAll(".tick text").attr("fill", AX).attr("font-size", 29)
      .attr("font-family", '"Liberation Sans", Arial, Helvetica, sans-serif');
  });

  g.append("rect").attr("x", left).attr("y", p.top)
    .attr("width", right - left).attr("height", p.bottom - p.top)
    .attr("fill", "none").attr("stroke", AX).attr("stroke-width", 1.2);
});

// y-axis labels
svg.append("text").attr("transform", "translate(55,245) rotate(-90)")
  .attr("text-anchor", "middle").attr("font-size", 32).attr("fill", AX)
  .text("v (m/d)");

const dLab = svg.append("text").attr("transform", "translate(48,789) rotate(-90)")
  .attr("text-anchor", "middle").attr("font-size", 32).attr("fill", AX);
dLab.append("tspan").text("D (m");
dLab.append("tspan").attr("font-size", 22).attr("dy", -13).text("2");
dLab.append("tspan").attr("dy", 13).text("/d)");

// title
svg.append("text").attr("x", (left + right) / 2).attr("y", 36.5)
  .attr("text-anchor", "middle").attr("font-size", 32).attr("font-weight", "bold")
  .attr("fill", "#000").text("Kilo Nalu");

// legend
const lg = svg.append("g");
lg.append("rect").attr("x", 1149).attr("y", 77).attr("width", 151).attr("height", 120)
  .attr("fill", "#fff").attr("stroke", AX).attr("stroke-width", 1.2);
const rowY = d3.scalePoint().domain(seriesNames).range([101, 178]);
seriesNames.forEach((name, i) => {
  const yy = rowY(name);
  lg.append("line").attr("x1", 1158).attr("x2", 1217).attr("y1", yy).attr("y2", yy)
    .attr("stroke", seriesColors[i]).attr("stroke-width", 3);
  lg.append("text").attr("x", 1222).attr("y", yy + 10).attr("font-size", 28)
    .attr("fill", "#000").text(name);
});
</script>
</body>
</html>
